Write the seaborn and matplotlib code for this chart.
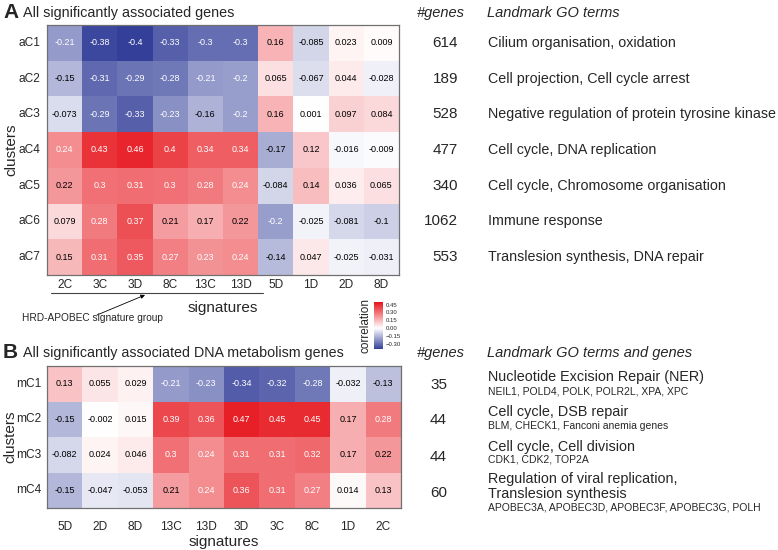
import numpy as np
import pandas as pd
import matplotlib
matplotlib.use('Agg')
import matplotlib.pyplot as plt
import matplotlib.transforms as mtransforms
from matplotlib.colors import LinearSegmentedColormap
from matplotlib.lines import Line2D
import seaborn as sns

sns.set_theme(style='white')
plt.rcParams['font.family'] = ['Liberation Sans', 'DejaVu Sans']

# panel A data
clusters_a = ['aC1', 'aC2', 'aC3', 'aC4', 'aC5', 'aC6', 'aC7']
sigs_a = ['2C', '3C', '3D', '8C', '13C', '13D', '5D', '1D', '2D', '8D']
corr_a = [
    [-0.21, -0.38, -0.4, -0.33, -0.3, -0.3, 0.16, -0.085, 0.023, 0.009],
    [-0.15, -0.31, -0.29, -0.28, -0.21, -0.2, 0.065, -0.067, 0.044, -0.028],
    [-0.073, -0.29, -0.33, -0.23, -0.16, -0.2, 0.16, 0.001, 0.097, 0.084],
    [0.24, 0.43, 0.46, 0.4, 0.34, 0.34, -0.17, 0.12, -0.016, -0.009],
    [0.22, 0.3, 0.31, 0.3, 0.28, 0.24, -0.084, 0.14, 0.036, 0.065],
    [0.079, 0.28, 0.37, 0.21, 0.17, 0.22, -0.2, -0.025, -0.081, -0.1],
    [0.15, 0.31, 0.35, 0.27, 0.23, 0.24, -0.14, 0.047, -0.025, -0.031],
]
ngenes_a = ['614', '189', '528', '477', '340', '1062', '553']
terms_a = ['Cilium organisation, oxidation',
           'Cell projection, Cell cycle arrest',
           'Negative regulation of protein tyrosine kinase',
           'Cell cycle, DNA replication',
           'Cell cycle, Chromosome organisation',
           'Immune response',
           'Translesion synthesis, DNA repair']

# panel B data
clusters_b = ['mC1', 'mC2', 'mC3', 'mC4']
sigs_b = ['5D', '2D', '8D', '13C', '13D', '3D', '3C', '8C', '1D', '2C']
corr_b = [
    [0.13, 0.055, 0.029, -0.21, -0.23, -0.34, -0.32, -0.28, -0.032, -0.13],
    [-0.15, -0.002, 0.015, 0.39, 0.36, 0.47, 0.45, 0.45, 0.17, 0.28],
    [-0.082, 0.024, 0.046, 0.3, 0.24, 0.31, 0.31, 0.32, 0.17, 0.22],
    [-0.15, -0.047, -0.053, 0.21, 0.24, 0.36, 0.31, 0.27, 0.014, 0.13],
]
ngenes_b = ['35', '44', '44', '60']
terms_b = ['Nucleotide Excision Repair (NER)',
           'Cell cycle, DSB repair',
           'Cell cycle, Cell division',
           'Regulation of viral replication,\nTranslesion synthesis']
genes_b = ['NEIL1, POLD4, POLK, POLR2L, XPA, XPC',
           'BLM, CHECK1, Fanconi anemia genes',
           'CDK1, CDK2, TOP2A',
           'APOBEC3A, APOBEC3D, APOBEC3F, APOBEC3G, POLH']

cbar_ticks = [-0.3, -0.15, 0.0, 0.15, 0.3, 0.45]

W, H = 778, 550
def fx(px):
    return px / W
def fy(py):
    return 1 - py / H

VMIN, VMAX = -0.4, 0.5
# white sits at zero, ends saturate at vmin / vmax
zero_pos = -VMIN / (VMAX - VMIN)
cmap = LinearSegmentedColormap.from_list(
    'corr', [(0.0, '#333f99'), (zero_pos, '#ffffff'), (1.0, '#e6131a')])

fig = plt.figure(figsize=(7.78, 5.5), dpi=100)

def draw_heat(ax, data, rows, cols, **kw):
    df = pd.DataFrame(data, index=rows, columns=cols)
    sns.heatmap(df, ax=ax, cmap=cmap, vmin=VMIN, vmax=VMAX,
                annot=True, fmt='g', annot_kws={'size': 6.5}, **kw)
    for t in ax.texts:
        v = float(t.get_text())
        t.set_color('white' if (v <= -0.195 or v >= 0.225) else 'black')
    for sp in ax.spines.values():
        sp.set_visible(True)
        sp.set_color('#707070')
        sp.set_linewidth(0.9)
    ax.tick_params(axis='both', length=0, labelsize=8.6)
    ax.tick_params(axis='y', pad=4.5)
    ax.set_yticklabels(rows, rotation=0)
    ax.set_xticklabels(cols, rotation=0)
    ax.set_ylabel('clusters', fontsize=11)

# --- panel A ---
ax_a = fig.add_axes([fx(47), fy(275), fx(399) - fx(47), 250 / H])
cax = fig.add_axes([fx(374), fy(349), fx(383) - fx(374), 47 / H])
draw_heat(ax_a, corr_a, clusters_a, sigs_a, cbar=True, cbar_ax=cax,
          cbar_kws={'ticks': cbar_ticks})
ax_a.tick_params(axis='x', pad=3)
ax_a.set_xlabel('signatures', fontsize=11, labelpad=7)
ax_a.yaxis.set_label_coords(-0.08, 0.5)

cax.tick_params(labelsize=4.3, length=0, pad=2)
cax.set_ylabel('correlation', fontsize=8.5, labelpad=2)
cax.yaxis.set_label_position('left')
for sp in cax.spines.values():
    sp.set_visible(False)

# line under the HRD-APOBEC group ticks
trans = mtransforms.blended_transform_factory(ax_a.transData, fig.transFigure)
fig.add_artist(Line2D([0.1, 6.15], [fy(293), fy(293)], transform=trans,
                      color='#444444', lw=0.8))
fig.text(fx(22), fy(318), 'HRD-APOBEC signature group', fontsize=7.3,
         ha='left', va='center')
ax_a.annotate('', xy=(fx(145), fy(295)), xycoords='figure fraction',
              xytext=(fx(97), fy(315)), textcoords='figure fraction',
              arrowprops=dict(arrowstyle='-|>', color='black', lw=0.6,
                              mutation_scale=6, shrinkA=0, shrinkB=0))

fig.text(fx(3), fy(12), 'A', fontsize=15, fontweight='bold', ha='left', va='center')
fig.text(fx(23), fy(13), 'All significantly associated genes', fontsize=10.4,
         ha='left', va='center')
fig.text(fx(417), fy(13), '#genes', fontsize=10.5, style='italic', ha='left', va='center')
fig.text(fx(487), fy(13), 'Landmark GO terms', fontsize=10.5, style='italic',
         ha='left', va='center')
row_h = 250 / len(clusters_a)
for i, (n, term) in enumerate(zip(ngenes_a, terms_a)):
    yy = 25 + row_h * (i + 0.5)
    fig.text(fx(458), fy(yy), n, fontsize=11, ha='right', va='center')
    fig.text(fx(488), fy(yy), term, fontsize=10.3, ha='left', va='center')

# --- panel B ---
ax_b = fig.add_axes([fx(47), fy(508), fx(401) - fx(47), 142 / H])
draw_heat(ax_b, corr_b, clusters_b, sigs_b, cbar=False)
ax_b.tick_params(axis='x', pad=9)
ax_b.tick_params(axis='y', pad=4)
ax_b.set_xlabel('signatures', fontsize=11, labelpad=2)
ax_b.yaxis.set_label_coords(-0.083, 0.5)

fig.text(fx(3), fy(352), 'B', fontsize=15, fontweight='bold', ha='left', va='center')
fig.text(fx(23), fy(353), 'All significantly associated DNA metabolism genes',
         fontsize=10.3, ha='left', va='center')
fig.text(fx(417), fy(353), '#genes', fontsize=10.5, style='italic', ha='left', va='center')
fig.text(fx(487), fy(353), 'Landmark GO terms and genes', fontsize=10.5,
         style='italic', ha='left', va='center')
term_y = [377, 412, 447, 480]
gene_y = [392, 426, 460, 507]
count_y = [385, 420, 457, 493]
for n, term, genes, ty, gy, cy in zip(ngenes_b, terms_b, genes_b, term_y, gene_y, count_y):
    fig.text(fx(447), fy(cy), n, fontsize=11, ha='right', va='center')
    if '\n' in term:
        fig.text(fx(488), fy(ty - 8), term, fontsize=10.4, ha='left', va='top',
                 linespacing=1.05)
    else:
        fig.text(fx(488), fy(ty), term, fontsize=10.4, ha='left', va='center')
    fig.text(fx(488), fy(gy), genes, fontsize=7.5, ha='left', va='center')

fig.savefig('out.png', dpi=100)
